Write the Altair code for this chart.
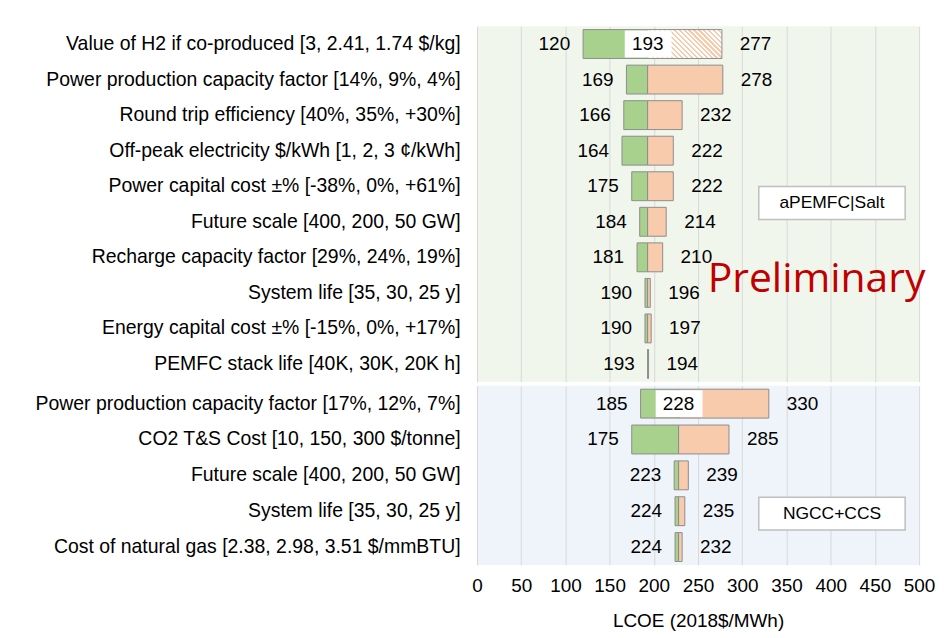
import altair as alt
import pandas as pd

# ---------------- data ----------------
cats_top = [
    "Value of H2 if co-produced [3, 2.41, 1.74 $/kg]",
    "Power production capacity factor [14%, 9%, 4%]",
    "Round trip efficiency [40%, 35%, +30%]",
    "Off-peak electricity $/kWh [1, 2, 3 ¢/kWh]",
    "Power capital cost ±% [-38%, 0%, +61%]",
    "Future scale [400, 200, 50 GW]",
    "Recharge capacity factor [29%, 24%, 19%]",
    "System life [35, 30, 25 y]",
    "Energy capital cost ±% [-15%, 0%, +17%]",
    "PEMFC stack life [40K, 30K, 20K h]",
]
low_top = [120, 169, 166, 164, 175, 184, 181, 190, 190, 193]
high_top = [277, 278, 232, 222, 222, 214, 210, 196, 197, 194]
base_top = 193
showbase_top = [True] + [False] * 9
hatch_top = [True] + [False] * 9

cats_bot = [
    "Power production capacity factor [17%, 12%, 7%]",
    "CO2 T&S Cost [10, 150, 300 $/tonne]",
    "Future scale [400, 200, 50 GW]",
    "System life [35, 30, 25 y]",
    "Cost of natural gas [2.38, 2.98, 3.51 $/mmBTU]",
]
low_bot = [185, 175, 223, 224, 224]
high_bot = [330, 285, 239, 235, 232]
base_bot = 228
showbase_bot = [True] + [False] * 4
hatch_bot = [False] * 5

x_ticks = [0, 50, 100, 150, 200, 250, 300, 350, 400, 450, 500]

# ---------------- style ----------------
FONT = "Liberation Sans"
GREEN = "#a9d18e"
SALMON = "#f8cbad"
EDGE = "#8c8c8c"
GRID = "#d9d9d9"
BG_TOP = "#f1f6ed"
BG_BOT = "#eff4fa"
FS = 19
FS_CAT = 19.5

# diagonal hatch built as a striped gradient
n_str = 21
stops = []
for i in range(n_str):
    a = i / n_str
    b = (i + 0.45) / n_str
    c = (i + 1) / n_str
    stops += [
        alt.GradientStop(color=SALMON, offset=a),
        alt.GradientStop(color=SALMON, offset=b),
        alt.GradientStop(color="white", offset=b),
        alt.GradientStop(color="white", offset=c),
    ]
hatch_fill = alt.LinearGradient(gradient="linear", stops=stops,
                                x1=0, y1=1, x2=1.207, y2=0.5305)


def make_df(cats, lows, highs, base, showbase, hatch):
    return pd.DataFrame({
        "cat": cats, "low": lows, "high": highs,
        "base": [base] * len(cats), "showbase": showbase, "hatch": hatch,
    })


x_scale = alt.Scale(domain=[0, 500], nice=False, zero=False)


def panel(df, cats, height, bottom, box_text, box_y):
    if bottom:
        xaxis = alt.Axis(values=x_ticks, grid=True, gridColor=GRID, ticks=False,
                         domain=False, labelFontSize=FS, labelColor="black",
                         labelPadding=12, title="LCOE (2018$/MWh)",
                         titleFontSize=FS, titleFontWeight="normal",
                         titleColor="black", titlePadding=16, labelFlush=False)
    else:
        xaxis = alt.Axis(values=x_ticks, grid=True, gridColor=GRID, ticks=False,
                         domain=False, labels=False, title=None,
                         minExtent=0, maxExtent=0)
    yaxis = alt.Axis(title=None, ticks=False, domain=False, labelFontSize=FS_CAT,
                     labelColor="black", labelPadding=17, labelLimit=600,
                     minExtent=464, maxExtent=464)
    Y = alt.Y("cat:N", sort=cats, axis=yaxis,
              scale=alt.Scale(paddingInner=0, paddingOuter=0))

    base = alt.Chart(df)
    green = base.mark_bar(size=29, color=GREEN, stroke=EDGE, strokeWidth=1).encode(
        y=Y, x=alt.X("low:Q", scale=x_scale, axis=xaxis), x2="base:Q")
    salmon = base.transform_filter("!datum.hatch").mark_bar(
        size=29, color=SALMON, stroke=EDGE, strokeWidth=1).encode(
        y=Y, x=alt.X("base:Q", scale=x_scale, axis=xaxis), x2="high:Q")
    layers = [green, salmon]
    if any(df["hatch"]):
        hatched = base.transform_filter("datum.hatch").mark_bar(
            size=29, fill=hatch_fill, stroke=EDGE, strokeWidth=1).encode(
            y=Y, x=alt.X("base:Q", scale=x_scale, axis=xaxis), x2="high:Q")
        layers.append(hatched)
    wbox = base.transform_filter("datum.showbase").mark_bar(
        size=27, color="white", xOffset=-23, x2Offset=24).encode(
        y=Y, x=alt.X("base:Q", scale=x_scale, axis=xaxis), x2="base:Q")
    btxt = base.transform_filter("datum.showbase").mark_text(
        fontSize=FS, color="black").encode(
        y=Y, x=alt.X("base:Q", scale=x_scale, axis=xaxis), text="base:Q")
    ltxt = base.mark_text(fontSize=FS, color="black", align="right", dx=-13).encode(
        y=Y, x=alt.X("low:Q", scale=x_scale, axis=xaxis), text="low:Q")
    htxt = base.mark_text(fontSize=FS, color="black", align="left", dx=18).encode(
        y=Y, x=alt.X("high:Q", scale=x_scale, axis=xaxis), text="high:Q")
    layers += [wbox, btxt, ltxt, htxt]

    ann = alt.Chart(pd.DataFrame({"label": [box_text]}))
    rect = ann.mark_rect(fill="white", stroke="#bfbfbf", strokeWidth=1.5).encode(
        x=alt.value(283), x2=alt.value(430), y=alt.value(box_y), y2=alt.value(box_y + 33))
    rtxt = ann.mark_text(fontSize=17.5, color="black").encode(
        x=alt.value(356.5), y=alt.value(box_y + 16.5), text="label:N")
    layers += [rect, rtxt]
    if not bottom:
        prelim = alt.Chart(pd.DataFrame({"t": ["Preliminary"]})).mark_text(
            fontSize=41, color="#c00000", font="Open Sans", baseline="alphabetic").encode(
            x=alt.value(341), y=alt.value(267), text="t:N")
        layers.append(prelim)
    return alt.layer(*layers).properties(
        width=444, height=height,
        view=alt.ViewBackground(fill=BG_BOT if bottom else BG_TOP, stroke=None))


top = panel(make_df(cats_top, low_top, high_top, base_top, showbase_top, hatch_top),
            cats_top, 357, False, "aPEMFC|Salt", 161)
bot = panel(make_df(cats_bot, low_bot, high_bot, base_bot, showbase_bot, hatch_bot),
            cats_bot, 180, True, "NGCC+CCS", 112)

chart = alt.vconcat(top, bot, spacing=4).properties(
    padding={"left": 7, "top": 17, "right": 8, "bottom": 5}
).configure(font=FONT).configure_view(stroke=None)

chart.save("out.html", embed_options={"renderer": "svg", "actions": False})
